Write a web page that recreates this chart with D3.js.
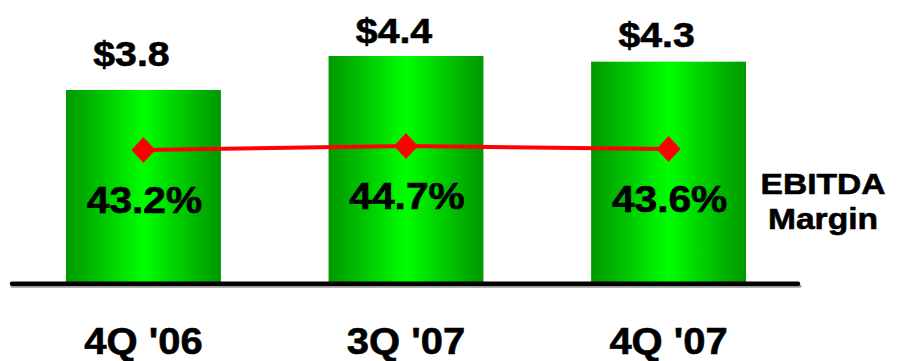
<!DOCTYPE html>
<html>
<head>
<meta charset="utf-8">
<script src="https://cdn.jsdelivr.net/npm/d3@7"></script>
<style>
  html, body { margin: 0; padding: 0; background: #ffffff; }
  svg { display: block; }
  text { font-family: "Liberation Sans", Arial, Helvetica, sans-serif; font-weight: bold; fill: #000;
         stroke: #000; stroke-width: 0.6px; }
</style>
</head>
<body>
<svg id="chart" width="898" height="361"></svg>
<script>
// Quarterly EBITDA ($ billions) with EBITDA margin (%)
const quarters = ["4Q '06", "3Q '07", "4Q '07"];
const ebitda = [3.8, 4.4, 4.3];
const margin = [43.2, 44.7, 43.6];
const sideLabel = ["EBITDA", "Margin"];

const svg = d3.select("#chart");

const x = d3.scaleBand().domain(quarters).range([66, 746]).paddingInner(0.41).paddingOuter(0);
const y = d3.scaleLinear().domain([0.4, 4.4]).range([282.7, 56]);
const labelY = d3.scaleLinear().domain([0.4, 4.4]).range([196, 43]);
const yMargin = d3.scaleLinear().domain([40, 50]).range([158.5, 131.9]);
const cx = q => x(q) + x.bandwidth() / 2;

// Wide bold lettering: text is stretched horizontally around its anchor
const place = (px, py, sx) => `translate(${px},${py}) scale(${sx},1)`;

// Horizontal shading for the bars: dark edges, bright centre
const defs = svg.append("defs");
const grad = defs.append("linearGradient").attr("id", "barShade")
  .attr("x1", "0%").attr("x2", "100%").attr("y1", "0%").attr("y2", "0%");
[[0, "#009800"], [0.18, "#00bb00"], [0.5, "#00ff00"], [0.82, "#00bb00"], [1, "#009800"]]
  .forEach(([o, c]) => grad.append("stop").attr("offset", o).attr("stop-color", c));

// Bars
svg.append("g").selectAll("rect").data(quarters).join("rect")
  .attr("x", d => x(d))
  .attr("width", x.bandwidth())
  .attr("y", (d, i) => y(ebitda[i]))
  .attr("height", (d, i) => y(0.4) - y(ebitda[i]))
  .attr("fill", "url(#barShade)");

// Baseline with a soft shadow under it
const base = y(0.4) + 1;
svg.append("line").attr("x1", 12).attr("x2", 800).attr("y1", base + 2.5).attr("y2", base + 2.5)
  .attr("stroke", "#9a9a9a").attr("stroke-width", 3).attr("stroke-linecap", "round");
svg.append("line").attr("x1", 12).attr("x2", 798).attr("y1", base).attr("y2", base)
  .attr("stroke", "#000").attr("stroke-width", 4.5).attr("stroke-linecap", "round");

// Value labels above bars
svg.append("g").selectAll("text").data(quarters).join("text")
  .attr("transform", (d, i) => place(cx(d) - 12, labelY(ebitda[i]), 1.12))
  .attr("text-anchor", "middle")
  .attr("font-size", 35)
  .text((d, i) => "$" + d3.format(".1f")(ebitda[i]));

// Margin line and diamond markers
const line = d3.line().x(d => cx(d[0])).y(d => yMargin(d[1]));
svg.append("path").datum(quarters.map((q, i) => [q, margin[i]]))
  .attr("d", line).attr("fill", "none").attr("stroke", "#ff0000").attr("stroke-width", 4);
svg.append("g").selectAll("path").data(quarters).join("path")
  .attr("transform", (d, i) => `translate(${cx(d)},${yMargin(margin[i])})`)
  .attr("d", "M0,-13L12,0L0,13L-12,0Z")
  .attr("fill", "#ff0000");

// Margin percentage labels inside bars, hung below each marker
svg.append("g").selectAll("text").data(quarters).join("text")
  .attr("transform", (d, i) => place(cx(d) + 1, yMargin(margin[i]) + 63, 1.1))
  .attr("text-anchor", "middle")
  .attr("font-size", 37)
  .text((d, i) => d3.format(".1f")(margin[i]) + "%");

// Category labels
svg.append("g").selectAll("text").data(quarters).join("text")
  .attr("transform", d => place(cx(d), 354, 1.08))
  .attr("text-anchor", "middle")
  .attr("font-size", 37)
  .text(d => d);

// Series label on the right
svg.append("g").selectAll("text").data(sideLabel).join("text")
  .attr("transform", (d, i) => place(823, 194 + i * 35, 1.12))
  .attr("text-anchor", "middle")
  .attr("font-size", 30)
  .text(d => d);
</script>
</body>
</html>
